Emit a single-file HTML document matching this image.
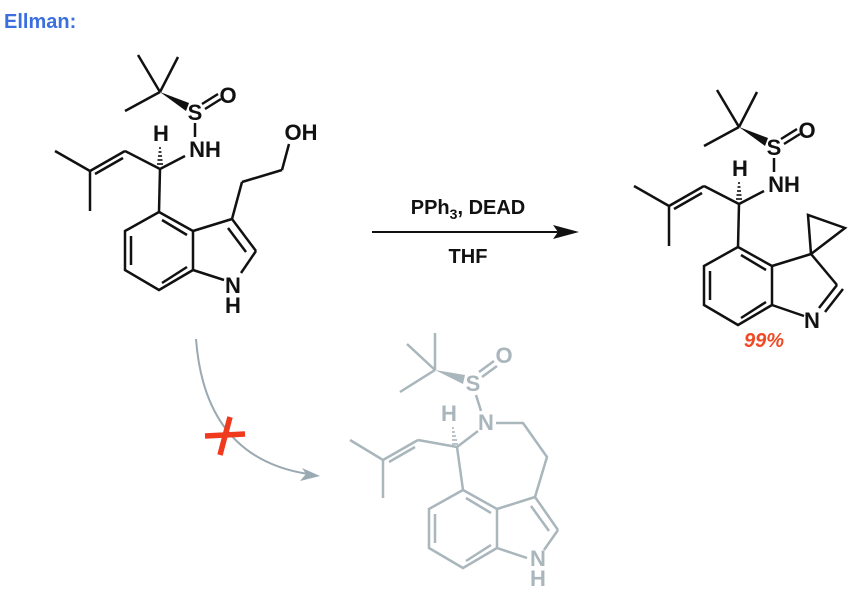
<!DOCTYPE html>
<html><head><meta charset="utf-8"><style>
html,body{margin:0;padding:0;background:#fff;}
svg{display:block;}
text{font-family:"Liberation Sans",Arial,sans-serif;font-weight:bold;}
</style></head><body>
<svg width="848" height="593" viewBox="0 0 848 593" xmlns="http://www.w3.org/2000/svg">
<defs>
<g id="core">
  <line x1="160" y1="92" x2="138" y2="55"/>
  <line x1="160" y1="92" x2="178" y2="57"/>
  <line x1="160" y1="92" x2="125" y2="111"/>
  <polygon points="160,92 189,103 186,111" stroke="none"/>
  <line x1="202" y1="104" x2="218" y2="94"/>
  <line x1="205" y1="109" x2="221" y2="99"/>
  <line x1="195" y1="123" x2="195" y2="137"/>
  <line x1="160" y1="169" x2="185" y2="156"/>
  <g stroke-width="1.6">
    <line x1="159" y1="148" x2="161" y2="148"/>
    <line x1="158.5" y1="152" x2="161.5" y2="152"/>
    <line x1="158" y1="156" x2="162" y2="156"/>
    <line x1="157.5" y1="160" x2="162.5" y2="160"/>
    <line x1="157" y1="164" x2="163" y2="164"/>
  </g>
  <line x1="160" y1="169" x2="125" y2="151"/>
  <line x1="125" y1="151" x2="90" y2="171"/>
  <line x1="123" y1="158" x2="95" y2="174"/>
  <line x1="90" y1="171" x2="55" y2="151"/>
  <line x1="90" y1="171" x2="90" y2="211"/>
  <line x1="160" y1="169" x2="159" y2="212"/>
  <polyline fill="none" points="159,212 125,231 125,270 159,290 193,270 193,231 159,212"/>
  <line x1="162" y1="220" x2="187" y2="235"/>
  <line x1="131" y1="236" x2="131" y2="265"/>
  <line x1="162" y1="283" x2="187" y2="267"/>
  <line x1="193" y1="231" x2="232" y2="219"/>
</g>
</defs>

<text x="4" y="28" font-size="20" fill="#3b6fe0">Ellman:</text>

<g stroke="#111" fill="#111" stroke-width="2.5">
  <use href="#core"/>
  <line x1="232" y1="219" x2="256" y2="251"/>
  <line x1="228" y1="228" x2="246" y2="252"/>
  <line x1="256" y1="251" x2="241" y2="273"/>
  <line x1="193" y1="270" x2="224" y2="280"/>
  <line x1="232" y1="219" x2="242" y2="182"/>
  <line x1="242" y1="182" x2="282" y2="170"/>
  <line x1="282" y1="170" x2="289" y2="144"/>
</g>
<g font-size="22" fill="#111" text-anchor="middle">
  <text x="195" y="120">S</text>
  <text x="228" y="103">O</text>
  <text x="205" y="157">NH</text>
  <text x="161" y="141">H</text>
  <text x="301" y="140">OH</text>
  <text x="233" y="293">N</text>
  <text x="233" y="313">H</text>
</g>

<line x1="372" y1="232" x2="560" y2="232" stroke="#111" stroke-width="2"/>
<polygon points="579,232 553,225 558,232 553,239" fill="#111"/>
<text x="468" y="214" font-size="20" fill="#111" text-anchor="middle">PPh<tspan font-size="14" dy="5">3</tspan><tspan dy="-5">, DEAD</tspan></text>
<text x="468" y="263" font-size="20" fill="#111" text-anchor="middle">THF</text>

<g stroke="#111" fill="#111" stroke-width="2.5" transform="translate(579,35)">
  <use href="#core"/>
  <line x1="232" y1="219" x2="258" y2="250"/>
  <line x1="258" y1="250" x2="240" y2="273"/>
  <line x1="264" y1="254" x2="246" y2="277"/>
  <line x1="193" y1="270" x2="225" y2="281"/>
  <polyline fill="none" points="232,219 229,180 266,193 232,219"/>
</g>
<g font-size="22" fill="#111" text-anchor="middle">
  <text x="774" y="155">S</text>
  <text x="807" y="138">O</text>
  <text x="784" y="192">NH</text>
  <text x="740" y="176">H</text>
  <text x="812" y="328">N</text>
</g>
<text x="764" y="347" font-size="20" fill="#f04a23" font-style="italic" text-anchor="middle">99%</text>

<path d="M196,339 Q205,458 308,474" fill="none" stroke="#9aa9b2" stroke-width="2"/>
<polygon points="320,476 302,468 306,474 300,481" fill="#9aa9b2"/>
<g stroke="#f03a1e" stroke-width="5.5">
  <line x1="205" y1="436" x2="245" y2="434"/>
  <line x1="230" y1="417" x2="220" y2="455"/>
</g>

<g stroke="#a9b6bc" fill="#a9b6bc" stroke-width="2.5">
  <line x1="435" y1="370" x2="435" y2="333"/>
  <line x1="435" y1="370" x2="407" y2="344"/>
  <line x1="435" y1="370" x2="400" y2="392"/>
  <polygon points="435,370 465,375 463,384" stroke="none"/>
  <line x1="479" y1="372" x2="494" y2="361"/>
  <line x1="482" y1="377" x2="497" y2="366"/>
  <line x1="476" y1="395" x2="481" y2="411"/>
  <line x1="478" y1="431" x2="457" y2="447"/>
  <g stroke-width="1.6">
    <line x1="452" y1="428" x2="454" y2="428"/>
    <line x1="452" y1="432" x2="455" y2="432"/>
    <line x1="452" y1="436" x2="456" y2="436"/>
    <line x1="452" y1="440" x2="457" y2="440"/>
    <line x1="452" y1="444" x2="458" y2="444"/>
  </g>
  <polyline fill="none" points="496,423 523,423 547,457 535,497"/>
  <line x1="457" y1="447" x2="418" y2="440"/>
  <line x1="418" y1="440" x2="383" y2="460"/>
  <line x1="415" y1="447" x2="389" y2="462"/>
  <line x1="383" y1="460" x2="350" y2="440"/>
  <line x1="383" y1="460" x2="383" y2="498"/>
  <line x1="457" y1="447" x2="463" y2="490"/>
  <g transform="translate(304,278)">
    <polyline fill="none" points="159,212 125,231 125,270 159,290 193,270 193,231 159,212"/>
    <line x1="162" y1="220" x2="187" y2="235"/>
    <line x1="131" y1="236" x2="131" y2="265"/>
    <line x1="162" y1="283" x2="187" y2="267"/>
    <line x1="193" y1="231" x2="231" y2="219"/>
    <line x1="231" y1="219" x2="254" y2="252"/>
    <line x1="227" y1="228" x2="245" y2="253"/>
    <line x1="254" y1="252" x2="240" y2="272"/>
    <line x1="193" y1="270" x2="223" y2="280"/>
  </g>
</g>
<g font-size="22" fill="#a9b6bc" text-anchor="middle">
  <text x="473" y="391">S</text>
  <text x="504" y="363">O</text>
  <text x="486" y="430">N</text>
  <text x="449" y="421">H</text>
  <text x="538" y="566">N</text>
  <text x="538" y="586">H</text>
</g>
</svg>
</body></html>
